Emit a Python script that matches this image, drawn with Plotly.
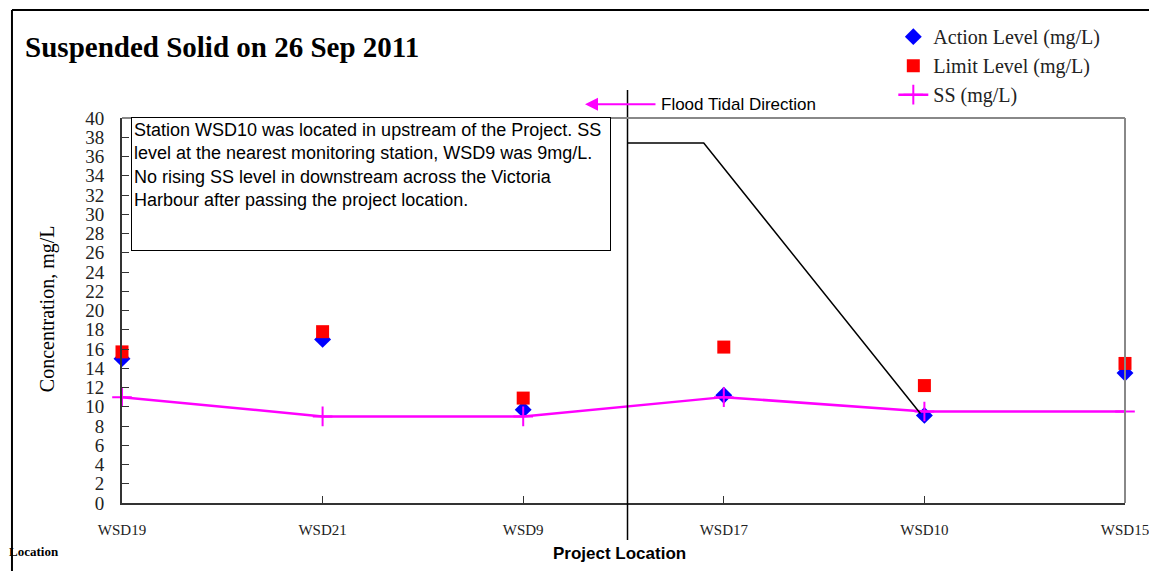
import plotly.graph_objects as go

# stations along the harbour, west to east
stations = ['WSD19', 'WSD21', 'WSD9', 'WSD17', 'WSD10', 'WSD15']
action_level = [15.0, 17.0, 9.7, 11.2, 9.1, 13.5]
limit_level = [15.7, 17.8, 10.9, 16.2, 12.2, 14.5]
ss_level = [11.0, 9.0, 9.0, 11.0, 9.5, 9.5]

# project location marker and the callout line from it to WSD10
project_x = 2.52
callout_x = [2.52, 2.90, 3.98]
callout_y = [37.4, 37.4, 9.3]

note = ('Station WSD10 was located in upstream of the Project. SS<br>'
        'level at the nearest monitoring station, WSD9 was 9mg/L.<br>'
        'No rising SS level in downstream across the Victoria<br>'
        'Harbour after passing the project location.')

serif = 'Liberation Serif'
sans = 'Liberation Sans, Arial'

xpos = list(range(len(stations)))

fig = go.Figure()

fig.add_trace(go.Scatter(
    x=xpos, y=action_level, mode='markers', name='Action Level (mg/L)',
    marker=dict(symbol='diamond', size=13, color='#0000FF'),
    cliponaxis=False))

fig.add_trace(go.Scatter(
    x=xpos, y=limit_level, mode='markers', name='Limit Level (mg/L)',
    marker=dict(symbol='square', size=13, color='#FF0000'),
    cliponaxis=False))

fig.add_trace(go.Scatter(
    x=xpos, y=ss_level, mode='lines+markers', name='SS (mg/L)',
    line=dict(color='#FF00FF', width=2.5),
    marker=dict(symbol='cross-thin', size=14, line=dict(color='#FF00FF', width=2)),
    cliponaxis=False))

fig.add_trace(go.Scatter(
    x=callout_x, y=callout_y, mode='lines', showlegend=False, hoverinfo='skip',
    line=dict(color='black', width=1.5)))

# vertical project line, runs past the plot area top and bottom
fig.add_shape(type='line', xref='x', yref='paper', x0=project_x, x1=project_x,
              y0=-0.096, y1=1.073, line=dict(color='black', width=1.5))

# gray frame on top/right of plot area
fig.add_shape(type='line', xref='paper', yref='paper', x0=0, x1=1, y0=1, y1=1,
              line=dict(color='#888888', width=2))
fig.add_shape(type='line', xref='paper', yref='paper', x0=1, x1=1, y0=0, y1=1,
              line=dict(color='#888888', width=2))

# outer frame of the whole chart (left and top edges are the visible ones)
fig.add_shape(type='line', xref='paper', yref='paper', x0=-0.1097, x1=-0.1097,
              y0=-0.2, y1=1.2805, line=dict(color='black', width=2))
fig.add_shape(type='line', xref='paper', yref='paper', x0=-0.1097, x1=1.03,
              y0=1.2805, y1=1.2805, line=dict(color='black', width=2))

fig.add_annotation(
    text=note, xref='paper', yref='paper', x=0.009, y=1.003,
    xanchor='left', yanchor='top', align='left', valign='top',
    width=474, height=128, showarrow=False,
    bordercolor='black', borderwidth=1, borderpad=2, bgcolor='white',
    font=dict(family=sans, size=18, color='black'))

# flood tidal direction arrow
fig.add_annotation(
    text='', xref='paper', yref='paper', x=0.4616, y=1.036,
    ax=72, ay=0, showarrow=True, arrowhead=2, arrowsize=1.3,
    arrowwidth=2, arrowcolor='#FF00FF')
fig.add_annotation(
    text='Flood Tidal Direction', xref='paper', yref='paper', x=0.535, y=1.036,
    xanchor='left', yanchor='middle', showarrow=False,
    font=dict(family=sans, size=17, color='black'))

fig.add_annotation(
    text='<b>Project Location</b>', xref='paper', yref='paper', x=0.4965, y=-0.13,
    xanchor='center', yanchor='middle', showarrow=False,
    font=dict(family=sans, size=17, color='black'))
fig.add_annotation(
    text='<b>Location</b>', xref='paper', yref='paper', x=-0.0877, y=-0.125,
    xanchor='center', yanchor='middle', showarrow=False,
    font=dict(family=serif, size=13, color='black'))

fig.add_annotation(
    text='Concentration, mg/L', xref='paper', yref='paper', x=-0.0748, y=0.506,
    textangle=-90, xanchor='center', yanchor='middle', showarrow=False,
    font=dict(family=serif, size=20, color='black'))

# page body has an 8px margin all round, so the figure is 16px smaller each way
fig.update_layout(
    width=1141, height=563,
    margin=dict(l=114, r=24, t=110, b=68, autoexpand=False),
    paper_bgcolor='white', plot_bgcolor='white',
    title=dict(text='<b>Suspended Solid on 26 Sep 2011</b>', x=0.015, xanchor='left',
               y=0.931, yanchor='middle',
               font=dict(family=serif, size=29, color='black')),
    legend=dict(x=0.769, y=1.262, xanchor='left', yanchor='top',
                bgcolor='rgba(0,0,0,0)', tracegroupgap=0,
                font=dict(family=serif, size=20, color='#222222')),
    xaxis=dict(range=[0, 5], tickvals=xpos, ticktext=stations,
               showgrid=False, zeroline=False,
               showline=True, linecolor='#333333', linewidth=2,
               ticks='inside', ticklen=7, tickcolor='#333333',
               ticklabelstandoff=12, ticklabeloverflow='allow',
               tickfont=dict(family=serif, size=15, color='#222222')),
    yaxis=dict(range=[0, 40], dtick=2, showgrid=False, zeroline=False,
               showline=True, linecolor='#333333', linewidth=2,
               ticks='inside', ticklen=7, tickcolor='#333333',
               ticklabelstandoff=12,
               tickfont=dict(family=serif, size=19, color='#222222')),
)

fig.write_html('out.html')
